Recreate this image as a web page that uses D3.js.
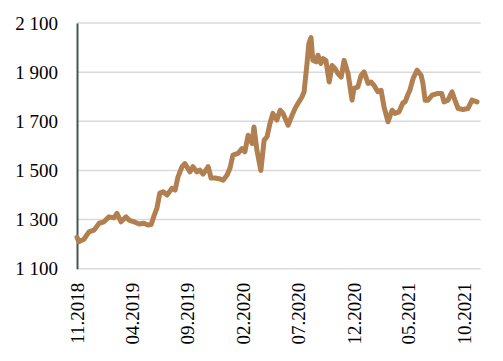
<!DOCTYPE html>
<html><head><meta charset="utf-8">
<script src="https://cdn.jsdelivr.net/npm/d3@7"></script>
<style>html,body{margin:0;padding:0;background:#fff;}svg{display:block;}</style>
</head><body>
<svg id="chart" width="503" height="361"></svg>
<script>
const dates = ["2018-11-01","2018-11-06","2018-11-20","2018-12-04","2018-12-18","2019-01-01","2019-01-14","2019-01-28","2019-02-11","2019-02-19","2019-03-02","2019-03-16","2019-03-24","2019-04-07","2019-04-21","2019-05-04","2019-05-15","2019-05-24","2019-06-01","2019-06-09","2019-06-17","2019-06-26","2019-07-07","2019-07-20","2019-07-29","2019-08-06","2019-08-17","2019-08-25","2019-09-08","2019-09-16","2019-09-27","2019-10-05","2019-10-14","2019-10-28","2019-11-05","2019-11-16","2019-11-30","2019-12-08","2019-12-19","2019-12-27","2020-01-04","2020-01-18","2020-01-29","2020-02-06","2020-02-15","2020-02-26","2020-03-02","2020-03-10","2020-03-21","2020-03-30","2020-04-07","2020-04-15","2020-04-23","2020-05-04","2020-05-13","2020-05-21","2020-06-04","2020-06-15","2020-06-23","2020-07-01","2020-07-12","2020-07-18","2020-07-26","2020-07-31","2020-08-06","2020-08-11","2020-08-20","2020-08-25","2020-09-02","2020-09-08","2020-09-16","2020-09-25","2020-10-03","2020-10-11","2020-10-19","2020-10-28","2020-11-05","2020-11-16","2020-11-27","2020-12-02","2020-12-13","2020-12-22","2020-12-30","2021-01-10","2021-01-18","2021-01-26","2021-02-06","2021-02-15","2021-02-23","2021-03-06","2021-03-17","2021-03-25","2021-04-05","2021-04-16","2021-04-22","2021-04-30","2021-05-05","2021-05-14","2021-05-25","2021-06-05","2021-06-10","2021-06-16","2021-06-24","2021-07-05","2021-07-19","2021-08-01","2021-08-07","2021-08-18","2021-08-29","2021-09-06","2021-09-15","2021-09-28","2021-10-12","2021-10-23","2021-11-06"];
const prices = [1228,1210,1220,1250,1257,1285,1291,1311,1307,1325,1291,1311,1298,1291,1282,1285,1278,1280,1315,1347,1408,1413,1400,1427,1420,1474,1515,1528,1494,1515,1494,1501,1485,1515,1469,1469,1465,1460,1481,1509,1562,1569,1589,1576,1643,1610,1677,1583,1500,1623,1637,1691,1732,1705,1745,1732,1684,1725,1752,1772,1799,1820,1935,2016,2041,1948,1942,1969,1935,1955,1948,1860,1927,1915,1894,1880,1948,1894,1786,1833,1840,1887,1901,1854,1860,1847,1820,1826,1758,1698,1745,1732,1738,1775,1779,1810,1826,1874,1908,1887,1854,1786,1786,1806,1813,1813,1779,1786,1820,1786,1752,1748,1752,1786,1779];
const xTickDates = ["2018-11-01","2019-04-01","2019-09-01","2020-02-01","2020-07-01","2020-12-01","2021-05-01","2021-10-01"];
const xTickLabels = ["11.2018","04.2019","09.2019","02.2020","07.2020","12.2020","05.2021","10.2021"];
const yTicks = [1100,1300,1500,1700,1900,2100];

const parse = d3.timeParse("%Y-%m-%d");
const data = dates.map((d,i)=>({date:parse(d), value:prices[i]}));

const W=503,H=361, m={left:77,right:22.3,top:23,bottom:92.3};
const svg=d3.select("#chart");
const x=d3.scaleTime().domain([parse("2018-11-01"),parse("2021-11-16")]).range([m.left,W-m.right]);
const y=d3.scaleLinear().domain([1100,2100]).range([H-m.bottom,m.top]);
const fmt=d3.formatLocale({decimal:",",thousands:" ",grouping:[3],currency:["",""]}).format(",d");
const font="'Liberation Serif','Times New Roman',serif";

// gridlines
svg.append("g").selectAll("line").data(yTicks).join("line")
  .attr("x1",m.left).attr("x2",W-m.right)
  .attr("y1",d=>y(d)).attr("y2",d=>y(d))
  .attr("stroke","#d9d9d9").attr("stroke-width",1.5);

// y axis
const yAxis=svg.append("g").attr("transform",`translate(${m.left},0)`)
  .call(d3.axisLeft(y).tickValues(yTicks).tickFormat(fmt).tickSize(0).tickPadding(19));
yAxis.select(".domain").attr("stroke","#44574f").attr("stroke-width",2);
yAxis.selectAll("text").attr("font-family",font).attr("font-size",19).attr("fill","#000");

// x axis labels
const xAxis=svg.append("g").attr("transform",`translate(0,${H-m.bottom})`)
  .call(d3.axisBottom(x).tickValues(xTickDates.map(parse)).tickFormat((d,i)=>xTickLabels[i]).tickSize(0));
xAxis.select(".domain").remove();
xAxis.selectAll("text")
  .attr("font-family",font).attr("font-size",19).attr("fill","#000")
  .attr("text-anchor","end").attr("dy",null).attr("y",0)
  .attr("dominant-baseline","central")
  .attr("transform","translate(0,14) rotate(-90)");

// line
svg.append("path").datum(data)
  .attr("fill","none").attr("stroke","#b27f50").attr("stroke-width",5)
  .attr("stroke-linejoin","round").attr("stroke-linecap","round")
  .attr("d",d3.line().x(d=>x(d.date)).y(d=>y(d.value)));
</script>
</body></html>
